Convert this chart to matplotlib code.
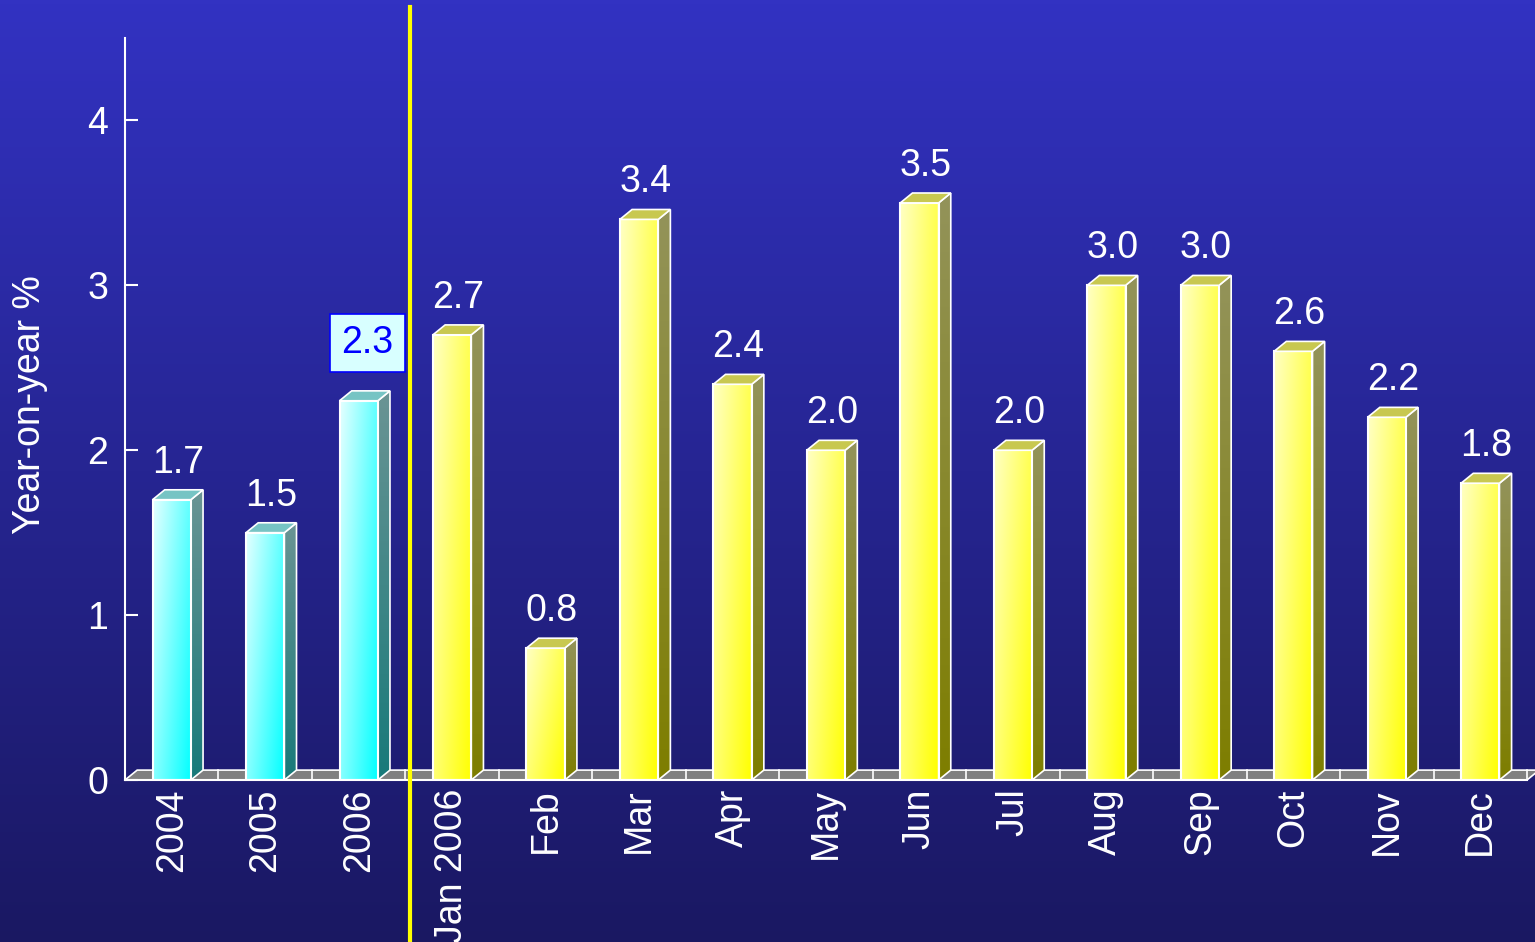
import numpy as np
import matplotlib.pyplot as plt
from matplotlib.patches import Polygon, Rectangle
from matplotlib.colors import LinearSegmentedColormap, to_rgb

plt.rcParams['font.family'] = ['Liberation Sans', 'DejaVu Sans']

categories = ['2004', '2005', '2006', 'Jan 2006', 'Feb', 'Mar', 'Apr', 'May',
              'Jun', 'Jul', 'Aug', 'Sep', 'Oct', 'Nov', 'Dec']
values = [1.7, 1.5, 2.3, 2.7, 0.8, 3.4, 2.4, 2.0, 3.5, 2.0, 3.0, 3.0, 2.6, 2.2, 1.8]
n_annual = 3
highlight = 2  # the boxed label

W, H = 1535, 942
fig = plt.figure(figsize=(W / 100, H / 100), dpi=100)

# background gradient
bg = fig.add_axes([0, 0, 1, 1])
bg.axis('off')
bg.imshow(np.linspace(0, 1, 256).reshape(-1, 1), aspect='auto', origin='upper',
          extent=[0, 1, 0, 1],
          cmap=LinearSegmentedColormap.from_list('bg', ['#3232C2', '#1A1862']))

ax = fig.add_axes([125 / W, 162 / H, 1402 / W, 742 / H])
ax.patch.set_alpha(0)

w = 0.41     # front face width
dx = 0.13    # depth in x
dy = 0.06    # depth in y


def grad_img(c_light, c_dark, n=64, mix=0.6):
    u = np.linspace(0, 1, n)[None, :]
    v = np.linspace(0, 1, n)[:, None]
    t = mix * u + (1 - mix) * v
    a, b = np.array(to_rgb(c_light)), np.array(to_rgb(c_dark))
    return a[None, None, :] * (1 - t[..., None]) + b[None, None, :] * t[..., None]


def vgrad(c_top, c_bot, n=64):
    v = np.linspace(0, 1, n)[:, None, None]
    a, b = np.array(to_rgb(c_top)), np.array(to_rgb(c_bot))
    return np.repeat(a * (1 - v) + b * v, 2, axis=1)


# floor
floor = Polygon([(-0.5, 0), (14.5, 0), (14.5 + dx, dy), (-0.5 + dx, dy)],
                closed=True, facecolor='#808080', edgecolor='white', lw=1.2,
                clip_on=False, zorder=1)
ax.add_patch(floor)
for k in range(len(categories)):
    ax.plot([k + 0.5, k + 0.5], [0, dy], color='white', lw=1.2, zorder=1.5, clip_on=False)

for i, v in enumerate(values):
    if i < n_annual:
        front = ('#E4FFFF', '#00FFFF')
        side = ('#6A9494', '#187A7A')
        top = '#76C4C4'
    else:
        front = ('#FFFFC4', '#FFFF00')
        side = ('#93935A', '#7E7E00')
        top = '#C8C850'
    x0, x1 = i - w / 2, i + w / 2

    im = ax.imshow(grad_img(*front), extent=[x0, x1, 0, v], aspect='auto',
                   origin='upper', zorder=2, interpolation='bilinear')
    ax.add_patch(Rectangle((x0, 0), w, v, fill=False, edgecolor='white', lw=1.5, zorder=3))

    side_poly = Polygon([(x1, 0), (x1 + dx, dy), (x1 + dx, v + dy), (x1, v)], closed=True,
                        facecolor='none', edgecolor='white', lw=1.2, zorder=3)
    ax.add_patch(side_poly)
    sim = ax.imshow(vgrad(*side), extent=[x1, x1 + dx, 0, v + dy], aspect='auto',
                    origin='upper', zorder=2, interpolation='bilinear')
    sim.set_clip_path(side_poly)

    ax.add_patch(Polygon([(x0, v), (x1, v), (x1 + dx, v + dy), (x0 + dx, v + dy)], closed=True,
                         facecolor=top, edgecolor='white', lw=1.2, zorder=3))

    if i == highlight:
        ax.text(i + dx / 2 + 0.03, v + dy + 0.18, f'{v:.1f}', ha='center', va='bottom',
                fontsize=27, color='#0000FF', zorder=4,
                bbox=dict(boxstyle='square,pad=0.3', facecolor='#D8FFFF',
                          edgecolor='#0000FF', lw=1.2))
    else:
        ax.text(i + dx / 2, v + dy + 0.055, f'{v:.1f}', ha='center', va='bottom',
                fontsize=27, color='white', zorder=4)

ax.set_xlim(-0.5, 14.5)
ax.set_ylim(0, 4.5)

# divider between annual and monthly figures
ax.axvline(2.55, ymin=-0.22, ymax=1.042, color='#FFFF00', lw=3, clip_on=False, zorder=5)

for s in ['top', 'right']:
    ax.spines[s].set_visible(False)
ax.spines['left'].set_color('white')
ax.spines['left'].set_linewidth(1.5)
ax.spines['bottom'].set_color('white')
ax.spines['bottom'].set_linewidth(1.5)

ax.set_xticks(range(len(categories)))
ax.set_xticklabels(categories, rotation=90, va='top')
ax.tick_params(axis='x', length=0, pad=6, colors='white', labelsize=27)
ax.set_yticks([0, 1, 2, 3, 4])
ax.tick_params(axis='y', direction='in', length=9, width=1.5, colors='white',
               labelsize=27, pad=12)

fig.text(30 / W, 1 - 405 / H, 'Year-on-year %', rotation=90, ha='center', va='center',
         fontsize=27, color='white')

fig.savefig('out.png', dpi=100)
